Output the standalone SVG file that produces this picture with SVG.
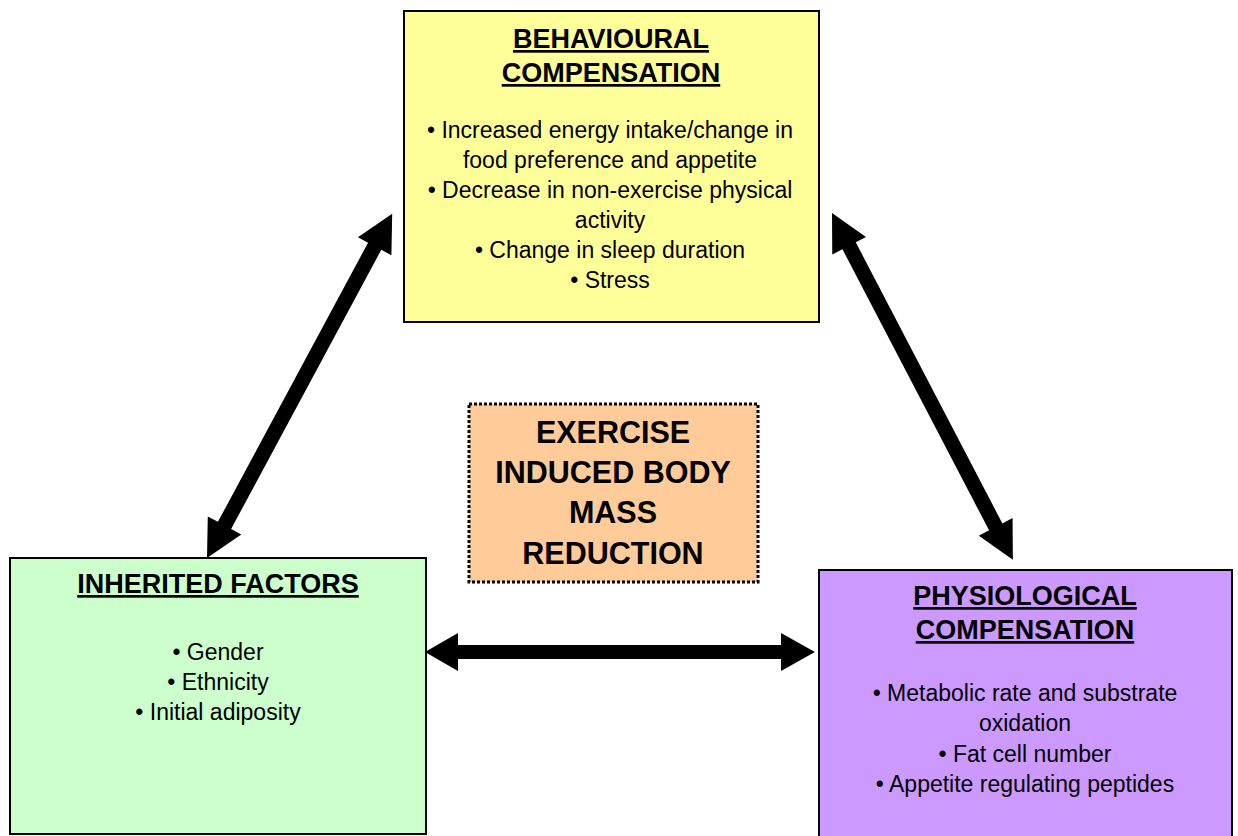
<svg xmlns="http://www.w3.org/2000/svg" xmlns:xlink="http://www.w3.org/1999/xlink" width="1238" height="836" viewBox="0 0 1238 836">
  <style>
    .box { stroke: #000; stroke-width: 2; }
    .title { font-family: "Liberation Sans", Arial, sans-serif; font-weight: bold; font-size: 27px; text-anchor: middle; text-decoration: underline; fill: #000; }
    .item { font-family: "Liberation Sans", Arial, sans-serif; font-size: 23px; text-anchor: middle; fill: #000; }
    .core { font-family: "Liberation Sans", Arial, sans-serif; font-weight: bold; font-size: 30.5px; text-anchor: middle; fill: #000; }
    .arrow { fill: #000; }
  </style>
  <defs>
    <!-- double-headed block arrow laid along +x, length 391 -->
    <path id="dbl" d="M0,0 L37,-19 L37,-7.5 L354,-7.5 L354,-19 L391,0 L354,19 L354,7.5 L37,7.5 L37,19 Z"/>
  </defs>
  <rect width="1238" height="836" fill="#fff"/>

  <g id="connectors" class="arrow">
    <use xlink:href="#dbl" transform="translate(207,558) rotate(-61.73)"/>
    <use xlink:href="#dbl" transform="translate(832,213) rotate(62.45)"/>
    <path d="M425,652 L458,633 L458,645 L781,645 L781,633 L815,652 L781,671 L781,659 L458,659 L458,671 Z"/>
  </g>

  <g id="behavioural">
    <rect class="box" x="404" y="11" width="415" height="311" fill="#FFFF99"/>
    <text class="title" x="611" y="48">BEHAVIOURAL</text>
    <text class="title" x="611" y="82">COMPENSATION</text>
    <text class="item" x="610" y="138">• Increased energy intake/change in</text>
    <text class="item" x="610" y="168">food preference and appetite</text>
    <text class="item" x="610" y="198">• Decrease in non-exercise physical</text>
    <text class="item" x="610" y="228">activity</text>
    <text class="item" x="610" y="258">• Change in sleep duration</text>
    <text class="item" x="610" y="288">• Stress</text>
  </g>

  <g id="exercise">
    <rect x="469" y="404" width="289" height="178" fill="#FFCC99" stroke="#000" stroke-width="3" stroke-dasharray="3 2"/>
    <text class="core" x="613" y="443">EXERCISE</text>
    <text class="core" x="613" y="483">INDUCED BODY</text>
    <text class="core" x="613" y="523">MASS</text>
    <text class="core" x="613" y="564">REDUCTION</text>
  </g>

  <g id="inherited">
    <rect class="box" x="10" y="558" width="416" height="276" fill="#CCFFCC"/>
    <text class="title" x="218" y="593">INHERITED FACTORS</text>
    <text class="item" x="218" y="660">• Gender</text>
    <text class="item" x="218" y="690">• Ethnicity</text>
    <text class="item" x="218" y="720">• Initial adiposity</text>
  </g>

  <g id="physiological">
    <rect class="box" x="819" y="570" width="413" height="272" fill="#CC99FF"/>
    <text class="title" x="1025" y="605">PHYSIOLOGICAL</text>
    <text class="title" x="1025" y="639">COMPENSATION</text>
    <text class="item" x="1025" y="701">• Metabolic rate and substrate</text>
    <text class="item" x="1025" y="731">oxidation</text>
    <text class="item" x="1025" y="762">• Fat cell number</text>
    <text class="item" x="1025" y="792">• Appetite regulating peptides</text>
  </g>
</svg>
